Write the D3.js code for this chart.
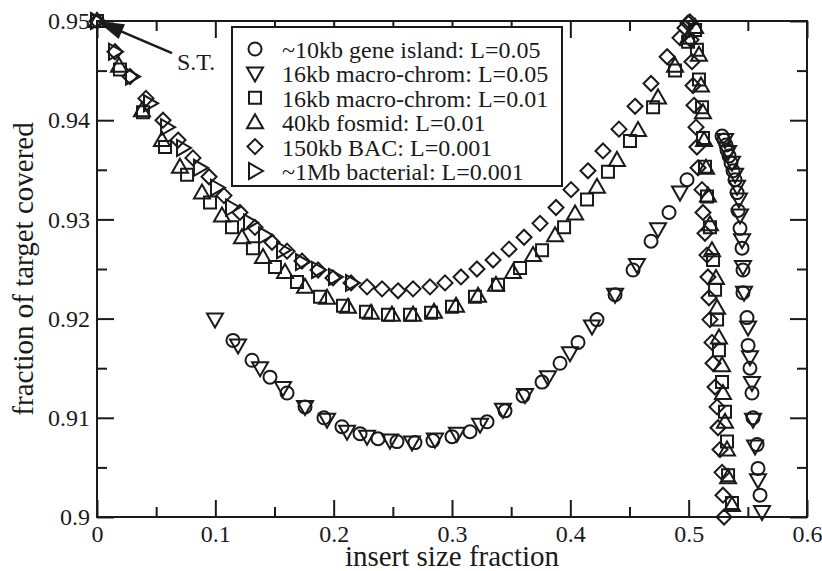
<!DOCTYPE html>
<html>
<head>
<meta charset="utf-8">
<title>insert size fraction</title>
<style>
body { margin: 0; background: #fff; }
text { font-family: "Liberation Serif", "Times New Roman", serif; fill: #1a1a1a; }
.mark { fill: none; stroke: #1a1a1a; stroke-width: 2; }
</style>
</head>
<body>
<div id="chart"></div>
<script src="https://cdn.jsdelivr.net/npm/d3@7"></script>
<script>
// values
const islandX = [0.1149, 0.1310, 0.1462, 0.1606, 0.1758, 0.1918, 0.2070, 0.2223, 0.2375, 0.2535, 0.2687, 0.2839, 0.3000, 0.3152, 0.3296, 0.3448, 0.3600, 0.3761, 0.3913, 0.4065, 0.4225, 0.4378, 0.4530, 0.4682, 0.4834, 0.4986,
  0.5282, 0.5299, 0.5316, 0.5324, 0.5341, 0.5358, 0.5375, 0.5392, 0.5409, 0.5417, 0.5434, 0.5451, 0.5459, 0.5459, 0.5493, 0.5502, 0.5518, 0.5535, 0.5544, 0.5578, 0.5586, 0.5603];
const islandY = [0.9178, 0.9158, 0.9141, 0.9125, 0.9111, 0.9100, 0.9091, 0.9084, 0.9079, 0.9076, 0.9075, 0.9077, 0.9081, 0.9086, 0.9096, 0.9107, 0.9122, 0.9136, 0.9155, 0.9176, 0.9199, 0.9224, 0.9249, 0.9278, 0.9307, 0.9340,
  0.9384, 0.9380, 0.9375, 0.9370, 0.9364, 0.9357, 0.9349, 0.9340, 0.9327, 0.9309, 0.9291, 0.9271, 0.9249, 0.9226, 0.9201, 0.9173, 0.9150, 0.9125, 0.9100, 0.9073, 0.9049, 0.9022];

const macro05X = [0.0997, 0.1192, 0.1378, 0.1572, 0.1758, 0.1944, 0.2113, 0.2282, 0.2476, 0.2662, 0.2856, 0.3042, 0.3237, 0.3431, 0.3617, 0.3811, 0.3997, 0.4183, 0.4378, 0.4563, 0.4741, 0.4927,
  0.5307, 0.5333, 0.5366, 0.5392, 0.5409, 0.5425, 0.5434, 0.5451, 0.5459, 0.5468, 0.5502, 0.5518, 0.5535, 0.5544, 0.5561, 0.5586, 0.5620];
const macro05Y = [0.9199, 0.9173, 0.9150, 0.9130, 0.9111, 0.9098, 0.9086, 0.9081, 0.9077, 0.9075, 0.9078, 0.9084, 0.9093, 0.9108, 0.9123, 0.9141, 0.9165, 0.9192, 0.9224, 0.9254, 0.9290, 0.9327,
  0.9380, 0.9368, 0.9357, 0.9345, 0.9333, 0.9320, 0.9304, 0.9279, 0.9252, 0.9226, 0.9191, 0.9161, 0.9135, 0.9098, 0.9071, 0.9037, 0.9005];

const macro01X = [0, 0.0194, 0.0389, 0.0575, 0.0761, 0.0955, 0.1141, 0.1318, 0.1504, 0.1690, 0.1885, 0.2079, 0.2273, 0.2459, 0.2645, 0.2823, 0.3000, 0.3194, 0.3389, 0.3575, 0.3761, 0.3947, 0.4141, 0.4318, 0.4504, 0.4699, 0.4885, 0.4995, 0.5054,
  0.5070, 0.5087, 0.5113, 0.5121, 0.5138, 0.5155, 0.5180, 0.5206, 0.5223, 0.5240, 0.5256, 0.5282, 0.5307, 0.5324, 0.5333, 0.5366];
const macro01Y = [0.95, 0.9451, 0.9408, 0.9373, 0.9345, 0.9317, 0.9292, 0.9271, 0.9252, 0.9237, 0.9222, 0.9213, 0.9207, 0.9204, 0.9204, 0.9206, 0.9212, 0.9222, 0.9234, 0.9251, 0.9269, 0.9292, 0.9320, 0.9348, 0.9379, 0.9413, 0.9450, 0.9479, 0.9491,
  0.9471, 0.9441, 0.9413, 0.9382, 0.9353, 0.9323, 0.9292, 0.9259, 0.9229, 0.9199, 0.9168, 0.9136, 0.9106, 0.9076, 0.9042, 0.9014];

const fosmidX = [0, 0.0186, 0.0380, 0.0549, 0.0701, 0.0887, 0.1056, 0.1225, 0.1403, 0.1589, 0.1758, 0.1944, 0.2121, 0.2316, 0.2493, 0.2671, 0.2848, 0.3034, 0.3220, 0.3372, 0.3516, 0.3685, 0.3871, 0.4040, 0.4225, 0.4394, 0.4572, 0.4741, 0.4885, 0.4995, 0.5054,
  0.5087, 0.5104, 0.5121, 0.5130, 0.5147, 0.5163, 0.5180, 0.5197, 0.5231, 0.5240, 0.5256, 0.5282, 0.5290, 0.5307, 0.5324, 0.5333, 0.5366];
const fosmidY = [0.95, 0.9455, 0.9410, 0.9380, 0.9353, 0.9327, 0.9304, 0.9282, 0.9262, 0.9247, 0.9232, 0.9221, 0.9212, 0.9206, 0.9204, 0.9204, 0.9207, 0.9213, 0.9223, 0.9234, 0.9247, 0.9264, 0.9284, 0.9306, 0.9333, 0.9360, 0.9390, 0.9423, 0.9455, 0.9483, 0.9494,
  0.9466, 0.9435, 0.9408, 0.9380, 0.9352, 0.9324, 0.9295, 0.9269, 0.9241, 0.9211, 0.9181, 0.9153, 0.9125, 0.9096, 0.9068, 0.9040, 0.9012];

const bacX = [0, 0.0152, 0.0279, 0.0414, 0.0558, 0.0685, 0.0811, 0.0947, 0.1073, 0.1208, 0.1335, 0.1479, 0.1606, 0.1732, 0.1868, 0.1994, 0.2147, 0.2282, 0.2409, 0.2544, 0.2671, 0.2814, 0.2941, 0.3076, 0.3211, 0.3347, 0.3482, 0.3609, 0.3744, 0.3879, 0.4006, 0.4149, 0.4276, 0.4411, 0.4547, 0.4682, 0.4818, 0.4927, 0.4969, 0.4995, 0.5011,
  0.5020, 0.5028, 0.5037, 0.5045, 0.5062, 0.5070, 0.5079, 0.5113, 0.5121, 0.5138, 0.5155, 0.5163, 0.5172, 0.5180, 0.5197, 0.5206, 0.5223, 0.5240, 0.5248, 0.5265, 0.5282, 0.5290, 0.5299];
const bacY = [0.95, 0.9469, 0.9444, 0.9422, 0.9400, 0.9380, 0.9362, 0.9343, 0.9324, 0.9307, 0.9292, 0.9277, 0.9268, 0.9258, 0.9249, 0.9241, 0.9236, 0.9232, 0.9230, 0.9228, 0.9230, 0.9232, 0.9236, 0.9242, 0.9250, 0.9259, 0.9270, 0.9282, 0.9296, 0.9312, 0.9330, 0.9349, 0.9369, 0.9391, 0.9414, 0.9437, 0.9464, 0.9483, 0.9493, 0.9498, 0.9499,
  0.9481, 0.9459, 0.9435, 0.9415, 0.9393, 0.9373, 0.9352, 0.9330, 0.9307, 0.9286, 0.9264, 0.9242, 0.9221, 0.9199, 0.9176, 0.9155, 0.9131, 0.9111, 0.9090, 0.9068, 0.9045, 0.9022, 0.9000];

const bactX = [0, 0.0152, 0.0296, 0.0448, 0.0592, 0.0727, 0.0870, 0.1014, 0.1141, 0.1293, 0.1420, 0.1572, 0.1732, 0.1868, 0.2011, 0.2155];
const bactY = [0.95, 0.9469, 0.9444, 0.9417, 0.9393, 0.9372, 0.9352, 0.9332, 0.9312, 0.9297, 0.9284, 0.9269, 0.9257, 0.9249, 0.9242, 0.9236];

const seriesNames = ["~10kb gene island: L=0.05", "16kb macro-chrom: L=0.05", "16kb macro-chrom: L=0.01",
  "40kb fosmid: L=0.01", "150kb BAC: L=0.001", "~1Mb bacterial: L=0.001"];
const seriesShapes = ["circle", "down", "square", "up", "diamond", "right"];

const xMajor = [0, 0.1, 0.2, 0.3, 0.4, 0.5, 0.6];
const xTickLabels = ["0", "0.1", "0.2", "0.3", "0.4", "0.5", "0.6"];
const xMinor = [0.05, 0.15, 0.25, 0.35, 0.45, 0.55];
const yMajor = [0.9, 0.91, 0.92, 0.93, 0.94, 0.95];
const yTickLabels = ["0.9", "0.91", "0.92", "0.93", "0.94", "0.95"];
const yMinor = [0.905, 0.915, 0.925, 0.935, 0.945];

var width = 822, height = 571;
var margin = {left: 97, top: 21, right: 15, bottom: 54};

var svg = d3.select("#chart").append("svg")
    .attr("width", width)
    .attr("height", height);

var x = d3.scaleLinear().domain([0, 0.6]).range([margin.left, width - margin.right]);
var y = d3.scaleLinear().domain([0.9, 0.95]).range([height - margin.bottom, margin.top]);

// shapes drawn by hand so the diamond is square and the triangles point the right way
function shape(kind) {
  switch (kind) {
    case "circle": return "M6.5,0A6.5,6.5 0 1,1 -6.5,0A6.5,6.5 0 1,1 6.5,0Z";
    case "square": return "M-6,-6H6V6H-6Z";
    case "up": return "M0,-8L8,6H-8Z";
    case "down": return "M0,8L8,-6H-8Z";
    case "diamond": return "M0,-7.5L7.5,0L0,7.5L-7.5,0Z";
    case "right": return "M8,0L-6,8V-8Z";
  }
}

var series = [
  [islandX, islandY], [macro05X, macro05Y], [macro01X, macro01Y],
  [fosmidX, fosmidY], [bacX, bacY], [bactX, bactY]
];

// axes: ticks point inward on all four sides
function styleAxis(g) {
  g.select(".domain").remove();
  g.selectAll("line").attr("stroke", "#1a1a1a").attr("stroke-width", 2);
  g.selectAll("text").attr("font-size", 24).attr("font-family", null).attr("fill", "#1a1a1a");
}
var innerH = y.range()[0], innerTop = y.range()[1];
var innerL = x.range()[0], innerR = x.range()[1];

svg.append("g").attr("transform", "translate(0," + innerH + ")")
  .call(d3.axisBottom(x).tickValues(xMajor).tickFormat(function(d) { return xTickLabels[xMajor.indexOf(d)]; }).tickSize(-17).tickPadding(8))
  .call(styleAxis);
svg.append("g").attr("transform", "translate(0," + innerH + ")")
  .call(d3.axisBottom(x).tickValues(xMinor).tickFormat("").tickSize(-10)).call(styleAxis);
svg.append("g").attr("transform", "translate(0," + innerTop + ")")
  .call(d3.axisTop(x).tickValues(xMajor).tickFormat("").tickSize(-17)).call(styleAxis);
svg.append("g").attr("transform", "translate(0," + innerTop + ")")
  .call(d3.axisTop(x).tickValues(xMinor).tickFormat("").tickSize(-10)).call(styleAxis);

svg.append("g").attr("transform", "translate(" + innerL + ",0)")
  .call(d3.axisLeft(y).tickValues(yMajor).tickFormat(function(d) { return yTickLabels[yMajor.indexOf(d)]; }).tickSize(-17).tickPadding(7))
  .call(styleAxis);
svg.append("g").attr("transform", "translate(" + innerL + ",0)")
  .call(d3.axisLeft(y).tickValues(yMinor).tickFormat("").tickSize(-10)).call(styleAxis);
svg.append("g").attr("transform", "translate(" + innerR + ",0)")
  .call(d3.axisRight(y).tickValues(yMajor).tickFormat("").tickSize(-17)).call(styleAxis);
svg.append("g").attr("transform", "translate(" + innerR + ",0)")
  .call(d3.axisRight(y).tickValues(yMinor).tickFormat("").tickSize(-10)).call(styleAxis);

svg.append("rect")
  .attr("x", innerL).attr("y", innerTop)
  .attr("width", innerR - innerL).attr("height", innerH - innerTop)
  .attr("fill", "none").attr("stroke", "#1a1a1a").attr("stroke-width", 2);

// axis titles
svg.append("text")
  .attr("x", (innerL + innerR) / 2).attr("y", 566)
  .attr("text-anchor", "middle").attr("font-size", 29)
  .text("insert size fraction");
svg.append("text")
  .attr("transform", "translate(33," + ((innerH + innerTop) / 2) + ") rotate(-90)")
  .attr("text-anchor", "middle").attr("font-size", 29)
  .text("fraction of target covered");

// data markers
series.forEach(function(s, k) {
  svg.append("g").selectAll("path")
    .data(d3.zip(s[0], s[1]))
    .enter()
    .append("path")
    .attr("class", "mark")
    .attr("d", shape(seriesShapes[k]))
    .attr("transform", function(d) { return "translate(" + x(d[0]) + "," + y(d[1]) + ")"; });
});

// S.T. arrow
var tip = [x(0), y(0.95)];
var tail = [x(0.0634), y(0.94677)];
var dx = tip[0] - tail[0], dy = tip[1] - tail[1];
var len = Math.sqrt(dx * dx + dy * dy);
var ux = dx / len, uy = dy / len;
var hl = 27, hw = 8;
var bx = tip[0] - ux * hl, by = tip[1] - uy * hl;
svg.append("line")
  .attr("x1", tail[0]).attr("y1", tail[1]).attr("x2", bx + ux * 4).attr("y2", by + uy * 4)
  .attr("stroke", "#1a1a1a").attr("stroke-width", 2.5);
svg.append("path")
  .attr("d", "M" + tip[0] + "," + tip[1] +
    "L" + (bx - uy * hw) + "," + (by + ux * hw) +
    "L" + (bx + uy * hw) + "," + (by - ux * hw) + "Z")
  .attr("fill", "#1a1a1a");
svg.append("text")
  .attr("x", x(0.0676)).attr("y", y(0.94506))
  .attr("font-size", 24)
  .text("S.T.");

// legend
var legend = svg.append("g").attr("transform", "translate(232,27)");
legend.append("rect")
  .attr("width", 330).attr("height", 159)
  .attr("fill", "#fff").attr("stroke", "#1a1a1a").attr("stroke-width", 2);
seriesNames.forEach(function(name, i) {
  var by = 31 + i * 24.4;
  legend.append("path")
    .attr("class", "mark")
    .attr("d", shape(seriesShapes[i]))
    .attr("transform", "translate(23," + (by - 9) + ")");
  legend.append("text")
    .attr("x", 50).attr("y", by)
    .attr("font-size", 24)
    .text(name);
});
</script>
</body>
</html>
